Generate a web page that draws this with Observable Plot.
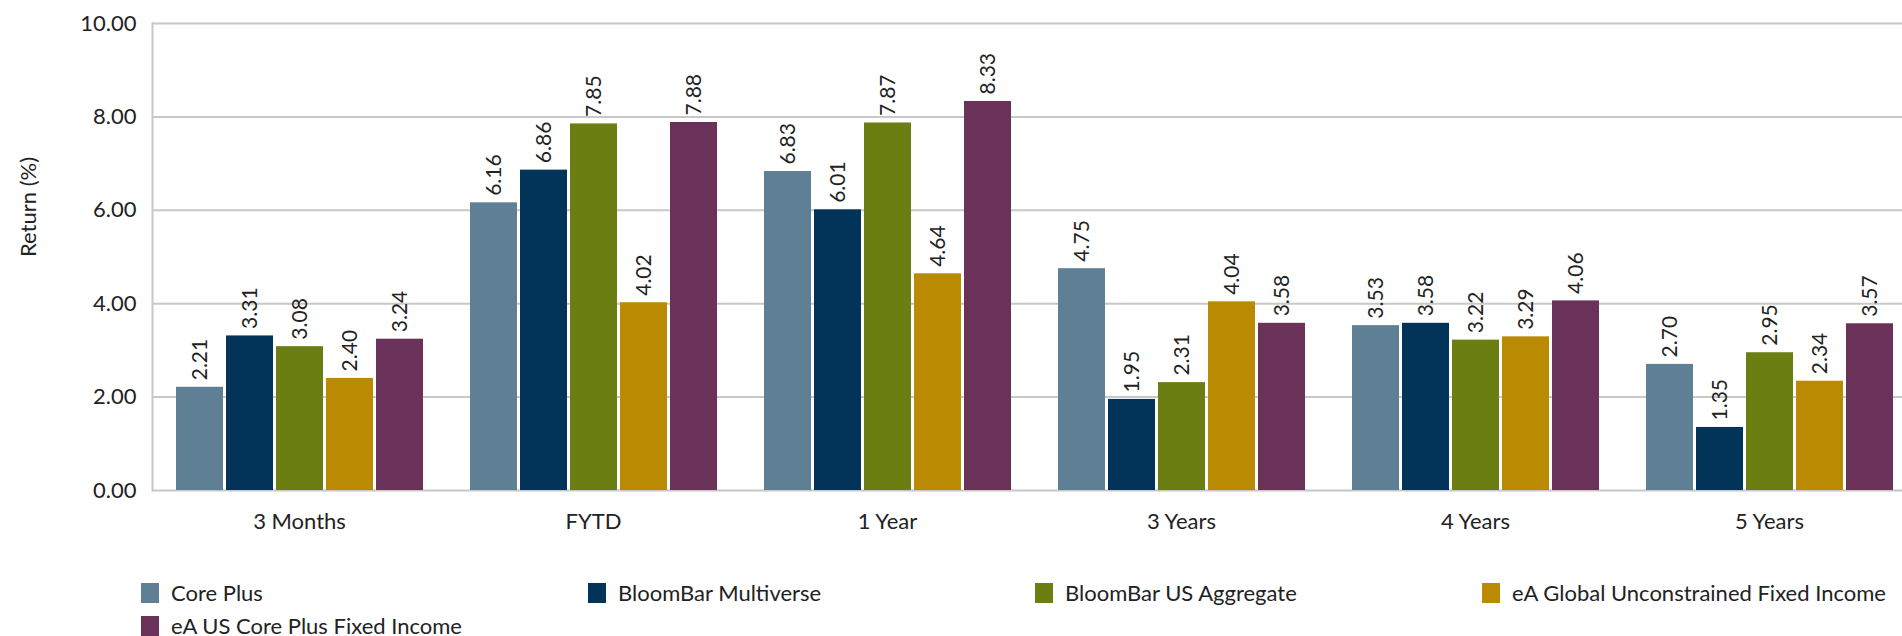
<!DOCTYPE html>
<html>
<head>
<meta charset="utf-8">
<script src="https://cdn.jsdelivr.net/npm/d3@7"></script>
<script src="https://cdn.jsdelivr.net/npm/@observablehq/plot@0.6"></script>
<style>
  html, body { margin: 0; padding: 0; background: #fff; }
  body { width: 1902px; height: 636px; overflow: hidden; font-family: Lato, "Noto Sans", sans-serif; color: #222; }
  #legend {
    display: grid;
    grid-template-columns: repeat(4, 447px);
    grid-auto-rows: 33px;
    padding-left: 141px;
    margin-top: 16px;
    font-size: 22px;
  }
  .item { display: flex; align-items: center; white-space: nowrap; }
  .sw { width: 18px; height: 20px; margin-right: 12px; flex: none; }
</style>
</head>
<body>
<div id="chart"></div>
<div id="legend"></div>
<script>
const periods = ["3 Months", "FYTD", "1 Year", "3 Years", "4 Years", "5 Years"];
const seriesNames = ["Core Plus", "BloomBar Multiverse", "BloomBar US Aggregate", "eA Global Unconstrained Fixed Income", "eA US Core Plus Fixed Income"];
const colors = ["#5E7F94", "#023459", "#6B7E12", "#B98A02", "#6A3259"];
const corePlus       = [2.21, 6.16, 6.83, 4.75, 3.53, 2.70];
const multiverse     = [3.31, 6.86, 6.01, 1.95, 3.58, 1.35];
const usAggregate    = [3.08, 7.85, 7.87, 2.31, 3.22, 2.95];
const eaGlobal       = [2.40, 4.02, 4.64, 4.04, 3.29, 2.34];
const eaUsCorePlus   = [3.24, 7.88, 8.33, 3.58, 4.06, 3.57];
const yTicks = [0, 2, 4, 6, 8, 10];
const yLabel = "Return (%)";

const seriesValues = [corePlus, multiverse, usAggregate, eaGlobal, eaUsCorePlus];
const data = [];
periods.forEach((p, i) => {
  seriesNames.forEach((s, j) => {
    data.push({period: p, series: s, value: seriesValues[j][i]});
  });
});

const grid = "#c8c8c8";
const chart = Plot.plot({
  width: 1902,
  height: 560,
  marginTop: 23,
  marginBottom: 70,
  marginLeft: 149,
  marginRight: -16,
  style: {fontFamily: "Lato, 'Noto Sans', sans-serif", fontSize: "22px", color: "#222", background: "#fff"},
  fx: {domain: periods, padding: 0},
  x: {domain: seriesNames, paddingInner: 0.06, paddingOuter: 0.42, axis: null},
  y: {domain: [0, 10], label: null},
  color: {domain: seriesNames, range: colors},
  marks: [
    Plot.ruleY(yTicks, {stroke: grid, strokeWidth: 2}),
    Plot.frame({anchor: "left", facetAnchor: "left", stroke: grid, strokeWidth: 2}),
    Plot.barY(data, {fx: "period", x: "series", y: "value", fill: "series"}),
    Plot.text(data, {fx: "period", x: "series", y: "value", text: d => d.value.toFixed(2), rotate: -90, textAnchor: "start", dy: -7, fontSize: 21, fill: "#222"}),
    Plot.axisY({ticks: yTicks, tickSize: 0, tickPadding: 16, tickFormat: d => d.toFixed(2), fontSize: 22, label: null}),
    Plot.text([yLabel], {text: d => d, frameAnchor: "left", facetAnchor: "left", dx: -124, rotate: -90, fontSize: 22, fill: "#222"}),
    Plot.axisFx({anchor: "bottom", tickSize: 0, tickPadding: 23, fontSize: 22, label: null})
  ]
});
document.getElementById("chart").appendChild(chart);

const legend = d3.select("#legend");
seriesNames.forEach((s, i) => {
  const it = legend.append("div").attr("class", "item");
  it.append("div").attr("class", "sw").style("background", colors[i]);
  it.append("span").text(s);
});
</script>
</body>
</html>
